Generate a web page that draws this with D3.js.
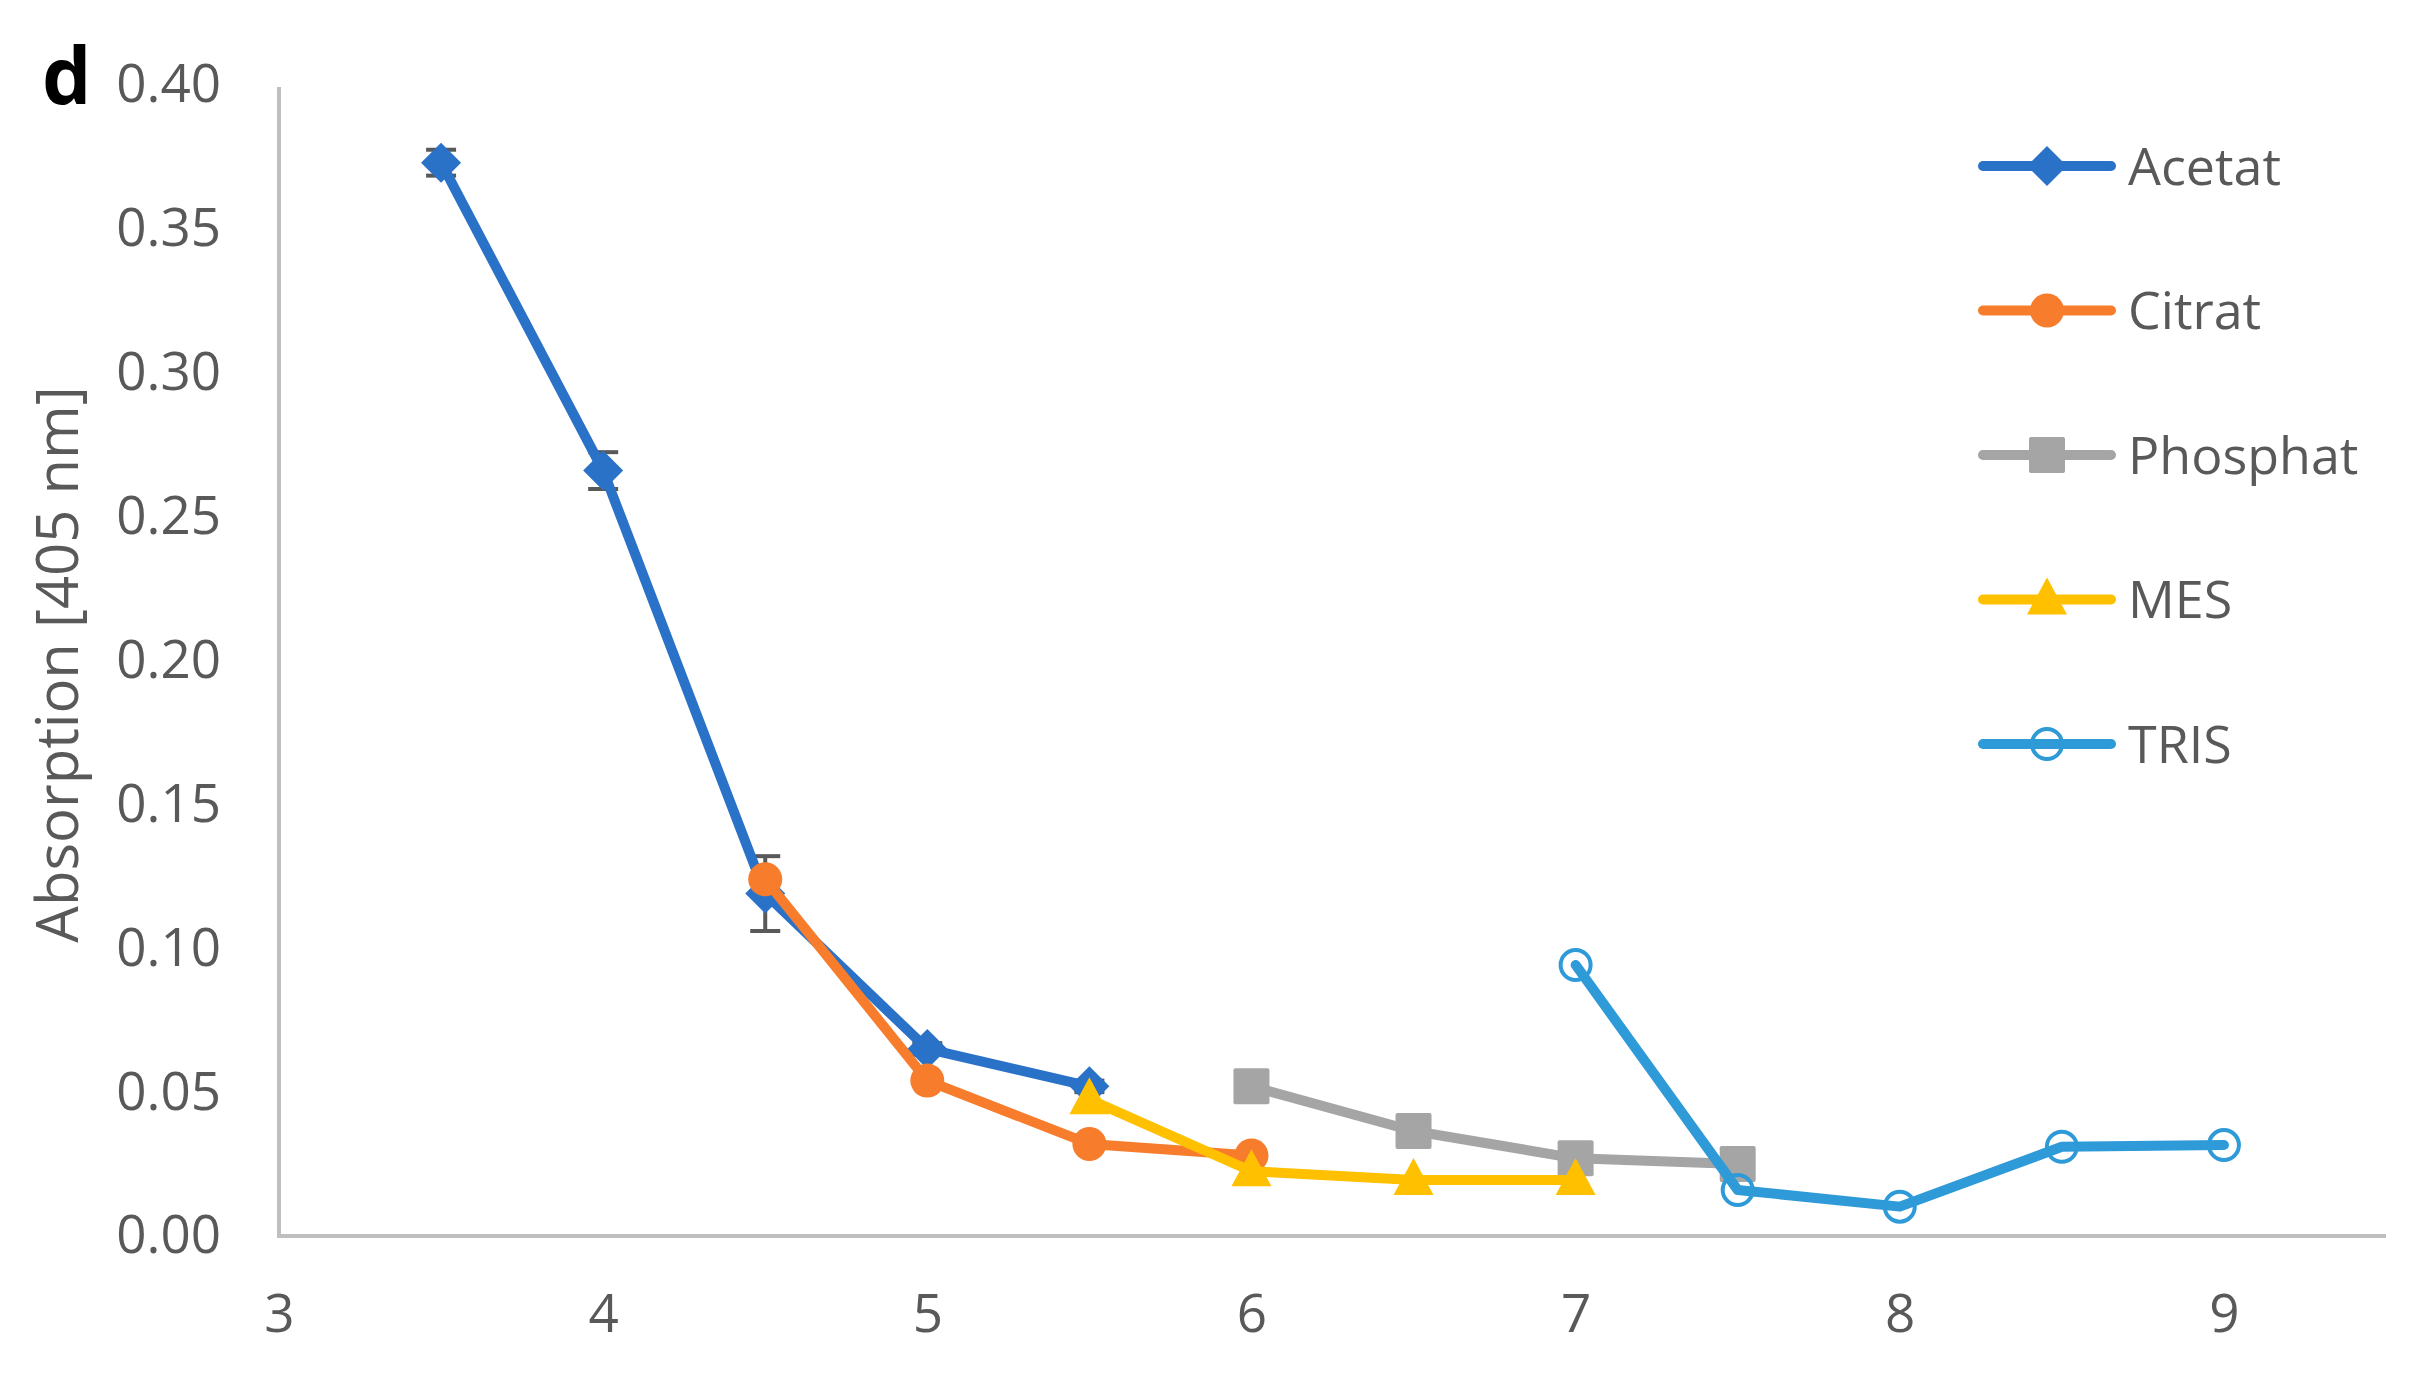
<!DOCTYPE html>
<html><head><meta charset="utf-8">
<script src="https://cdn.jsdelivr.net/npm/d3@7"></script>
<style>html,body{margin:0;padding:0;background:#fff;}svg{display:block;font-family:"Open Sans",sans-serif;}</style>
</head><body>
<svg id="c" width="2417" height="1375"></svg>
<script>
const seriesNames = ["Acetat","Citrat","Phosphat","MES","TRIS"];
const seriesColors = ["#2A71C8","#F77D2D","#A5A5A5","#FFC000","#2E9AD8"];
const seriesMarkers = ["diamond","circle","square","triangle","opencircle"];
const acetatX = [3.5,4.0,4.5,5.0,5.5];
const acetatY = [0.373,0.266,0.119,0.065,0.052];
const acetatErr = [0.0045,0.0064,0.013,0.002,0.002];
const citratX = [4.5,5.0,5.5,6.0];
const citratY = [0.124,0.054,0.032,0.028];
const phosphatX = [6.0,6.5,7.0,7.5];
const phosphatY = [0.052,0.0365,0.027,0.025];
const mesX = [5.5,6.0,6.5,7.0];
const mesY = [0.0475,0.0225,0.0195,0.0195];
const trisX = [7.0,7.5,8.0,8.5,9.0];
const trisY = [0.0942,0.016,0.0102,0.031,0.0316];
const xTicks = [3,4,5,6,7,8,9];
const yTicks = [0,0.05,0.10,0.15,0.20,0.25,0.30,0.35,0.40];
const yTitle = "Absorption [405 nm]";
const panelLabel = "d";

(function(){
const series = [
  {xs:acetatX, ys:acetatY, err:acetatErr},
  {xs:citratX, ys:citratY},
  {xs:phosphatX, ys:phosphatY},
  {xs:mesX, ys:mesY},
  {xs:trisX, ys:trisY}
].map((s,i)=>({...s, name:seriesNames[i], color:seriesColors[i], marker:seriesMarkers[i]}));

const svg = d3.select("#c");
const pL = 279, pR = 2386, pT = 85, pB = 1236;
const x = d3.scaleLinear().domain([3,9.5]).range([pL,pR]);
const y = d3.scaleLinear().domain([0,0.40]).range([pB,pT]);
const textColor = "#595959", axisColor = "#BFBFBF";

const ya = svg.append("g").attr("transform",`translate(${pL},0)`)
  .call(d3.axisLeft(y).tickValues(yTicks).tickFormat(d3.format(".2f")).tickSize(0).tickPadding(58));
ya.select(".domain").remove();
ya.selectAll("text").attr("fill",textColor).style("font-size","53px").style("font-family","'Open Sans',sans-serif");
const xa = svg.append("g").attr("transform",`translate(0,${pB})`)
  .call(d3.axisBottom(x).tickValues(xTicks).tickFormat(d3.format("d")).tickSize(0).tickPadding(58));
xa.select(".domain").remove();
xa.selectAll("text").attr("fill",textColor).style("font-size","53px").style("font-family","'Open Sans',sans-serif");

svg.append("line").attr("x1",pL).attr("x2",pL).attr("y1",pT+2).attr("y2",pB+2)
  .attr("stroke",axisColor).attr("stroke-width",4);
svg.append("line").attr("x1",pL-2).attr("x2",pR).attr("y1",pB).attr("y2",pB)
  .attr("stroke",axisColor).attr("stroke-width",4);

svg.append("text").attr("transform",`translate(78,${(pT+pB)/2 + 4}) rotate(-90)`)
  .attr("text-anchor","middle").attr("fill",textColor).style("font-size","58px").text(yTitle);
svg.append("text").attr("x",42).attr("y",104).attr("fill","#000").style("font-size","78px")
  .style("font-weight","bold").style("font-family","'Open Sans',sans-serif").text(panelLabel);

function drawMarker(g, type, cx, cy, color){
  if(type==="diamond"){
    g.append("path").attr("d",`M${cx},${cy-20}L${cx+20},${cy}L${cx},${cy+20}L${cx-20},${cy}Z`).attr("fill",color);
  } else if(type==="circle"){
    g.append("circle").attr("cx",cx).attr("cy",cy).attr("r",17).attr("fill",color);
  } else if(type==="square"){
    g.append("rect").attr("x",cx-18).attr("y",cy-18).attr("width",36).attr("height",36).attr("rx",2).attr("fill",color);
  } else if(type==="triangle"){
    g.append("path").attr("d",`M${cx},${cy-22}L${cx+20},${cy+15}L${cx-20},${cy+15}Z`).attr("fill",color);
  } else if(type==="opencircle"){
    g.append("circle").attr("cx",cx).attr("cy",cy).attr("r",15).attr("fill","none").attr("stroke",color).attr("stroke-width",4);
  }
}

const line = d3.line().x(d=>x(d[0])).y(d=>y(d[1]));
series.forEach(s=>{
  const g = svg.append("g");
  const pts = s.xs.map((v,i)=>[v,s.ys[i]]);
  if(s.err){
    s.xs.forEach((v,i)=>{
      const e = s.err[i], cx = x(v);
      g.append("line").attr("x1",cx).attr("x2",cx).attr("y1",y(s.ys[i]+e)).attr("y2",y(s.ys[i]-e)).attr("stroke","#595959").attr("stroke-width",4);
      [s.ys[i]+e, s.ys[i]-e].forEach(t=>g.append("line").attr("x1",cx-15).attr("x2",cx+15).attr("y1",y(t)).attr("y2",y(t)).attr("stroke","#595959").attr("stroke-width",4));
    });
  }
  g.append("path").datum(pts).attr("d",line).attr("fill","none").attr("stroke",s.color)
    .attr("stroke-width",10).attr("stroke-linejoin","round").attr("stroke-linecap","round");
  pts.forEach(p=>drawMarker(g, s.marker, x(p[0]), y(p[1]), s.color));
});

const lg = svg.append("g");
series.forEach((s,i)=>{
  const cy = 166 + i*144.5;
  lg.append("line").attr("x1",1983).attr("x2",2111).attr("y1",cy).attr("y2",cy)
    .attr("stroke",s.color).attr("stroke-width",10).attr("stroke-linecap","round");
  drawMarker(lg, s.marker, 2047, cy, s.color);
  lg.append("text").attr("x",2128).attr("y",cy).attr("dy","0.36em").attr("fill",textColor)
    .style("font-size","52px").text(s.name);
});
})();
</script>
</body></html>
